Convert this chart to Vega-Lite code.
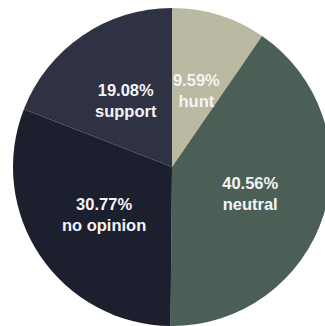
{
  "$schema": "https://vega.github.io/schema/vega-lite/v6.json",
  "width": 310,
  "height": 316,
  "padding": {"left": 13, "top": 8, "right": 2, "bottom": 2},
  "background": "white",
  "data": {"values": [
    {"category": "hunt", "value": 9.59, "label": "9.59%\nhunt", "order": 1},
    {"category": "neutral", "value": 40.56, "label": "40.56%\nneutral", "order": 2},
    {"category": "no opinion", "value": 30.77, "label": "30.77%\nno opinion", "order": 3},
    {"category": "support", "value": 19.08, "label": "19.08%\nsupport", "order": 4}
  ]},
  "encoding": {
    "theta": {"field": "value", "type": "quantitative", "stack": true},
    "order": {"field": "order", "type": "quantitative"},
    "color": {"field": "category", "type": "nominal", "legend": null,
      "scale": {"domain": ["hunt", "neutral", "no opinion", "support"],
                "range": ["#b9baa1", "#4b5f56", "#1c1f2d", "#2e3242"]}}
  },
  "layer": [
    {"mark": {"type": "arc", "outerRadius": 159}},
    {"mark": {"type": "text", "radius": 82, "dy": -8, "lineBreak": "\n", "font": "Liberation Sans", "fontWeight": "bold", "fontSize": 16.5, "lineHeight": 21, "baseline": "middle"},
     "encoding": {"text": {"field": "label"}, "color": {"value": "#f4f4f4"}}}
  ],
  "config": {"view": {"stroke": null}}
}
